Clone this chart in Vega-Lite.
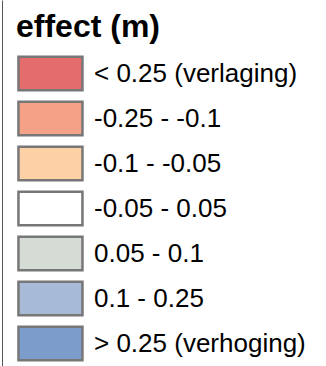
{
  "$schema": "https://vega.github.io/schema/vega-lite/v6.json",
  "width": 324,
  "height": 366,
  "autosize": {"type": "none"},
  "padding": {"left": 2, "top": 0, "right": 0, "bottom": 0},
  "background": "white",
  "config": {"view": {"stroke": null}},
  "data": {
    "values": [
      {"klasse": "< 0.25 (verlaging)", "volgorde": 1},
      {"klasse": "-0.25 - -0.1", "volgorde": 2},
      {"klasse": "-0.1 - -0.05", "volgorde": 3},
      {"klasse": "-0.05 - 0.05", "volgorde": 4},
      {"klasse": "0.05 - 0.1", "volgorde": 5},
      {"klasse": "0.1 - 0.25", "volgorde": 6},
      {"klasse": "> 0.25 (verhoging)", "volgorde": 7}
    ]
  },
  "mark": {"type": "square", "filled": true, "opacity": 0},
  "encoding": {
    "y": {
      "field": "volgorde",
      "type": "ordinal",
      "axis": {"labels": false, "ticks": false, "title": null, "domain": true, "domainColor": "#555", "domainWidth": 1, "grid": false}
    },
    "color": {
      "field": "klasse",
      "type": "nominal",
      "scale": {
        "domain": ["< 0.25 (verlaging)", "-0.25 - -0.1", "-0.1 - -0.05", "-0.05 - 0.05", "0.05 - 0.1", "0.1 - 0.25", "> 0.25 (verhoging)"],
        "range": ["#E46C6C", "#F4A188", "#FDD0A6", "#FFFFFF", "#D5DCD5", "#A8BBD6", "#7C9DCC"]
      },
      "legend": {
        "title": "effect (m)",
        "orient": "none",
        "legendX": 14,
        "legendY": 12,
        "padding": 0,
        "titleFont": "Liberation Sans",
        "titleFontSize": 32,
        "titleFontWeight": "bold",
        "titleColor": "#000000",
        "titlePadding": 12,
        "labelFont": "Liberation Sans",
        "labelFontSize": 26,
        "labelColor": "#000000",
        "labelOffset": 43,
        "labelLimit": 400,
        "symbolType": "M-0.94,-1.05H3.06V1.05H-0.94Z",
        "symbolSize": 1024,
        "symbolOpacity": 1,
        "symbolStrokeWidth": 2.5,
        "symbolStrokeColor": "#777777",
        "rowPadding": 0,
        "encode": {"symbols": {"update": {"stroke": {"value": "#777777"}, "strokeWidth": {"value": 2.5}, "opacity": {"value": 1}}}}
      }
    }
  }
}
